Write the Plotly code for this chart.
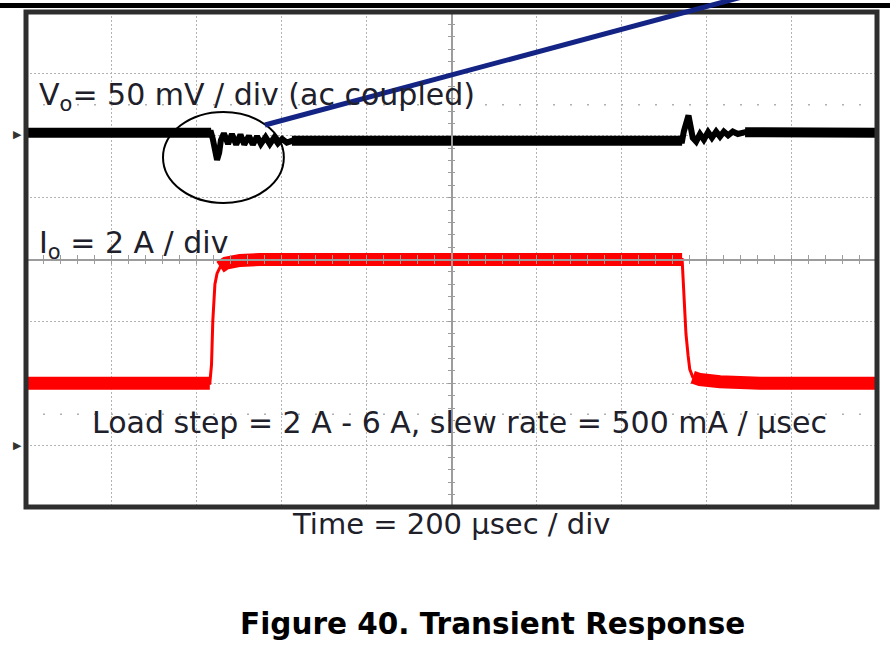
import plotly.graph_objects as go

# ---------------- data (read from the scope capture) ----------------
# time in microseconds (200 us / div, 10 div)
vo_t = [0, 435, 439, 444, 449, 454, 458, 465, 475, 484, 494, 504, 513, 524, 533,
        543, 552, 563, 573, 583, 592, 602, 613, 625, 1542, 1546, 1552, 1557, 1562,
        1567, 1575, 1584, 1593, 1603, 1612, 1622, 1631, 1640, 1650, 1661, 1673,
        1690, 2000]
# output voltage deviation, mV (ac coupled, 50 mV / div)
vo_mv = [1, 1, -4, -14, -21, -15, -5, 0.5, -8, 0, -8.5, -0.5, -8.5, -1.5, -8.5,
         -2, -8, -2.5, -8, -3, -7.5, -4, -7, -5.5, -5.5, 2, 12, 15, 6,
         -3, -6, 0, -4.5, 1.5, -3, 2, -2, 2, -1, 2, 0,
         1.5, 1]
vo_quiet = [(0, 435), (625, 1542), (1690, 2000)]

io_t = [0, 432, 436, 439, 444, 449, 456, 470, 503, 550, 1542, 1546, 1551, 1556,
        1560, 1567, 1584, 1631, 1725, 2000]
# output current, A (2 A / div)
io_a = [2.0, 2.0, 2.6, 4.0, 5.2, 5.55, 5.75, 5.88, 5.97, 6.0, 6.0, 5.0, 3.6, 2.9,
        2.45, 2.2, 2.12, 2.05, 2.0, 2.0]
io_quiet = [(0, 432), (456, 1542), (1567, 2000)]

t_range = [0, 2000]
io_range = [-2, 14]
vo_range = [-301.4, 98.6]

TXT = "#20202a"
FONT = "DejaVu Sans"


def span(ts, vs, lo, hi):
    xs, ys = [], []
    for t, v in zip(ts, vs):
        if lo <= t <= hi:
            xs.append(t)
            ys.append(v)
    return xs, ys


fig = go.Figure()

# dummy traces so the graticule centre axes are drawn
fig.add_trace(go.Scatter(x=[None], y=[None], xaxis="x2", yaxis="y", showlegend=False, hoverinfo="skip"))
fig.add_trace(go.Scatter(x=[None], y=[None], xaxis="x3", yaxis="y", showlegend=False, hoverinfo="skip"))
fig.add_trace(go.Scatter(x=[None], y=[None], xaxis="x", yaxis="y3", showlegend=False, hoverinfo="skip"))
fig.add_trace(go.Scatter(x=[None], y=[None], xaxis="x", yaxis="y4", showlegend=False, hoverinfo="skip"))

# Io trace
fig.add_trace(go.Scatter(x=io_t, y=io_a, mode="lines", line=dict(color="#ff0000", width=3),
                         yaxis="y", showlegend=False, hoverinfo="skip"))
for lo, hi in io_quiet:
    xs, ys = span(io_t, io_a, lo, hi)
    fig.add_trace(go.Scatter(x=xs, y=ys, mode="lines", line=dict(color="#ff0000", width=13),
                             yaxis="y", showlegend=False, hoverinfo="skip"))

# Vo trace
fig.add_trace(go.Scatter(x=vo_t, y=vo_mv, mode="lines", line=dict(color="#000000", width=6),
                         yaxis="y2", showlegend=False, hoverinfo="skip"))
for lo, hi in vo_quiet:
    xs, ys = span(vo_t, vo_mv, lo, hi)
    fig.add_trace(go.Scatter(x=xs, y=ys, mode="lines", line=dict(color="#000000", width=10),
                             yaxis="y2", showlegend=False, hoverinfo="skip"))

grid = dict(showgrid=True, gridcolor="#b3b3b3", gridwidth=1, griddash="2px,2px",
            showticklabels=False, zeroline=False, showline=False, ticks="")
center = dict(showgrid=False, showticklabels=False, zeroline=False, showline=True,
              linecolor="#9c9c9c", linewidth=1.5, tickcolor="#9c9c9c", tickwidth=1)

fig.update_layout(
    width=890, height=652,
    margin=dict(l=26, r=13, t=12, b=145),
    paper_bgcolor="white", plot_bgcolor="white",
    showlegend=False, hovermode=False,
    xaxis=dict(range=t_range, dtick=200, tick0=0, **grid),
    yaxis=dict(range=io_range, dtick=2, tick0=-2, **grid),
    yaxis2=dict(range=vo_range, overlaying="y", showgrid=False, showticklabels=False,
                zeroline=False, showline=False),
    xaxis2=dict(range=t_range, overlaying="x", anchor="free", position=0.5, dtick=40,
                ticks="outside", ticklen=4, **center),
    xaxis3=dict(range=t_range, overlaying="x", anchor="free", position=0.5, dtick=40,
                ticks="inside", ticklen=4, **center),
    yaxis3=dict(range=io_range, overlaying="y", anchor="free", position=0.5, dtick=0.4,
                ticks="outside", ticklen=3, **center),
    yaxis4=dict(range=io_range, overlaying="y", anchor="free", position=0.5, dtick=0.4,
                ticks="inside", ticklen=3, **center),
)

shapes = []
# sparse marker rows
for lvl in (1, 11):
    shapes.append(dict(type="line", xref="paper", yref="y", x0=0, x1=1, y0=lvl, y1=lvl,
                       line=dict(color="#b0b0b0", width=1.5, dash="2px,15px"), layer="below"))
# plot frame
shapes.append(dict(type="rect", xref="paper", yref="paper", x0=0, x1=1, y0=0, y1=1,
                   line=dict(color="#2e2e2e", width=5)))
# top rule
shapes.append(dict(type="line", xref="paper", yref="paper", x0=-0.05, x1=1.05, y0=1.0131, y1=1.0131,
                   line=dict(color="#000000", width=5)))
# highlight ellipse around the undershoot
shapes.append(dict(type="circle", xref="x", yref="y2", x0=322, x1=606, y0=-55.7, y1=17.8,
                   line=dict(color="#000000", width=2)))
# call-out line
shapes.append(dict(type="line", xref="paper", yref="paper", x0=0.2808, y0=0.7717, x1=0.8414, y1=1.0303,
                   line=dict(color="#142485", width=5)))
fig.update_layout(shapes=shapes)

ann = []
ann.append(dict(text="V<sub>o</sub>= 50 mV / div (ac coupled)", xref="paper", yref="paper",
                x=0.0129, y=0.830, xanchor="left", yanchor="middle", showarrow=False,
                font=dict(family=FONT, size=30, color=TXT)))
ann.append(dict(text="I<sub>o</sub> = 2 A / div", xref="paper", yref="paper",
                x=0.0129, y=0.531, xanchor="left", yanchor="middle", showarrow=False,
                font=dict(family=FONT, size=30, color=TXT)))
ann.append(dict(text="Load step = 2 A - 6 A, slew rate = 500 mA / µsec", xref="paper", yref="paper",
                x=0.0752, y=0.1707, xanchor="left", yanchor="middle", showarrow=False,
                font=dict(family=FONT, size=30, color=TXT)))
ann.append(dict(text="Time = 200 µsec / div", xref="paper", yref="paper",
                x=0.4994, y=-0.0343, xanchor="center", yanchor="middle", showarrow=False,
                font=dict(family=FONT, size=29, color=TXT)))
ann.append(dict(text="<b>Figure 40. Transient Response</b>", xref="paper", yref="paper",
                x=0.5476, y=-0.2354, xanchor="center", yanchor="middle", showarrow=False,
                font=dict(family=FONT, size=29.5, color="#000000")))
# channel ground markers
ann.append(dict(text="▶", xref="paper", yref="y2", x=-0.0025, y=0, xanchor="right", yanchor="middle",
                showarrow=False, font=dict(family=FONT, size=11, color="#333333")))
ann.append(dict(text="▶", xref="paper", yref="y", x=-0.0025, y=0, xanchor="right", yanchor="middle",
                showarrow=False, font=dict(family=FONT, size=11, color="#333333")))
fig.update_layout(annotations=ann)

fig.write_html("out.html")
